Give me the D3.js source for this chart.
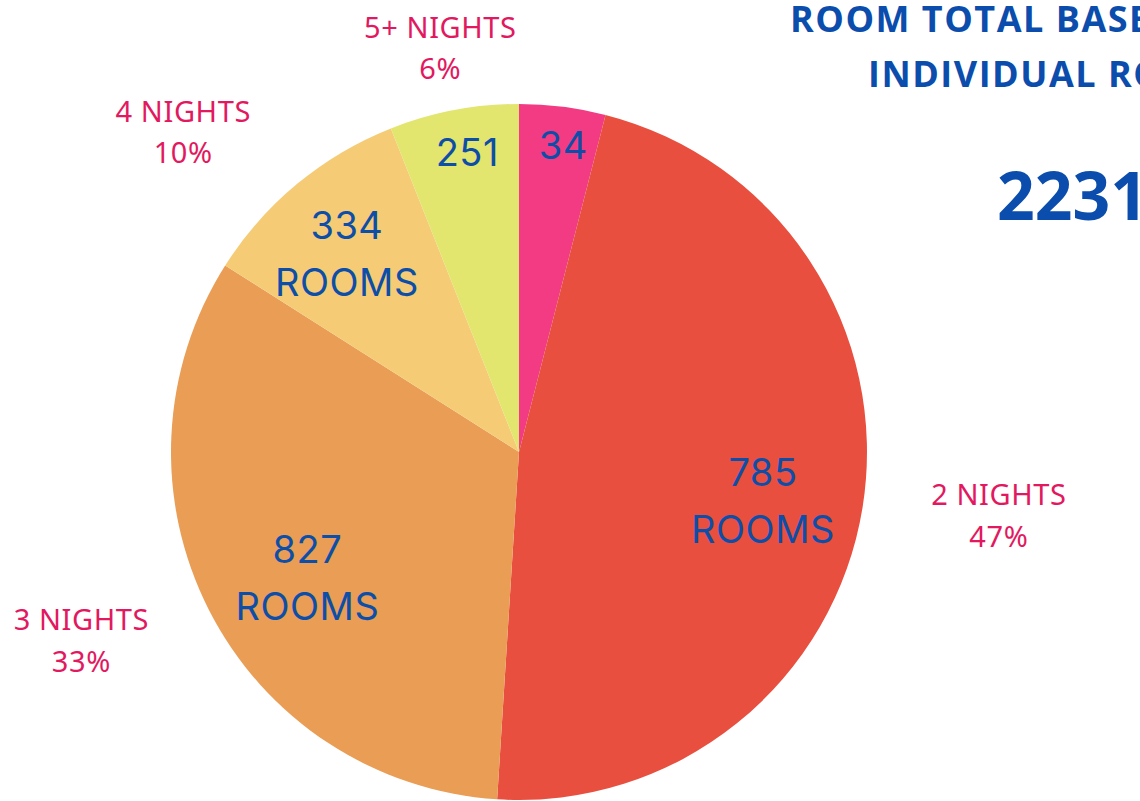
<!DOCTYPE html>
<html lang="en">
<head>
<meta charset="UTF-8">
<title>Room Total Based on Individual Rooms</title>
<script src="https://d3js.org/d3.v7.min.js"></script>
<style>
  body { margin: 0; background: #fff; overflow: hidden; }
  .inner { font-family: Inter, "Open Sans", sans-serif; font-size: 38px; fill: #0d4ea8; text-anchor: middle; letter-spacing: 0.5px; }
  .outer { font-family: "Noto Sans", sans-serif; font-size: 29px; fill: #e2195f; text-anchor: middle; letter-spacing: 0.6px; }
  .title { font-family: "Open Sans", sans-serif; font-weight: 700; fill: #0b4dac; }
</style>
</head>
<body>
<div id="chart"></div>
<script>
// data
const nights = ["1 NIGHT", "2 NIGHTS", "3 NIGHTS", "4 NIGHTS", "5+ NIGHTS"];
const percents = [4, 47, 33, 10, 6];
const rooms = [34, 785, 827, 334, 251];
const showRoomsWord = [false, true, true, true, false];
const showOuter = [false, true, true, true, true];
const colors = ["#f23b82", "#e94f3f", "#e99d55", "#f5cc75", "#e2e56e"];

// label layout (radius from centre and angle nudge in degrees, per slice)
const innerR = [310, 247, 241, 270, 304];
const innerShift = [1, 0, -1.6, 0, 1];
const outerR = [0, 483, 473, 470, 420];
const outerShift = [0, -2.5, 4.7, -6, 0];

const W = 1140, H = 801;
const cx = 519, cy = 452, R = 348;

const svg = d3.select("#chart").append("svg")
  .attr("width", W).attr("height", H);

const g = svg.append("g").attr("transform", `translate(${cx},${cy})`);

const pie = d3.pie().sort(null).value(d => d);
const arcs = pie(percents);
const arc = d3.arc().innerRadius(0).outerRadius(R);

g.selectAll("path")
  .data(arcs)
  .join("path")
  .attr("d", arc)
  .attr("fill", (d, i) => colors[i]);

function polar(r, a) {
  return [r * Math.sin(a), -r * Math.cos(a)];
}

const rad = Math.PI / 180;

// inner labels
arcs.forEach((d, i) => {
  const mid = (d.startAngle + d.endAngle) / 2 + innerShift[i] * rad;
  const [x, y] = polar(innerR[i], mid);
  const t = g.append("text").attr("class", "inner").attr("x", x).attr("y", y);
  if (showRoomsWord[i]) {
    t.append("tspan").attr("x", x).attr("dy", "-0.12em").text(rooms[i]);
    t.append("tspan").attr("x", x).attr("dy", "1.5em").text("ROOMS");
  } else {
    t.attr("dy", "0.36em").text(rooms[i]);
  }
});

// outer labels
arcs.forEach((d, i) => {
  if (!showOuter[i]) return;
  const mid = (d.startAngle + d.endAngle) / 2 + outerShift[i] * rad;
  const [x, y] = polar(outerR[i], mid);
  const t = g.append("text").attr("class", "outer").attr("x", x).attr("y", y);
  t.append("tspan").attr("x", x).attr("dy", "-0.05em").text(nights[i]);
  t.append("tspan").attr("x", x).attr("dy", "1.43em").text(percents[i] + "%");
});

// title block
svg.append("text").attr("class", "title")
  .attr("x", 790).attr("y", 32).style("font-size", "36px").style("letter-spacing", "1.5px")
  .text("ROOM TOTAL BASED ON");
svg.append("text").attr("class", "title")
  .attr("x", 868).attr("y", 87).style("font-size", "36px").style("letter-spacing", "1.5px")
  .text("INDIVIDUAL ROOMS");
svg.append("text").attr("class", "title")
  .attr("x", 997).attr("y", 220).style("font-size", "66px")
  .text(d3.sum(rooms) + " ROOMS");
</script>
</body>
</html>
